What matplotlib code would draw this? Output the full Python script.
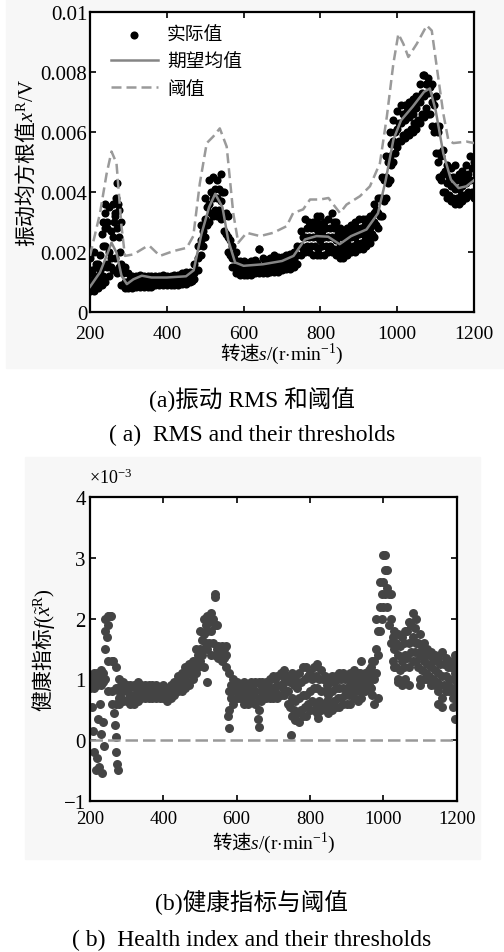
import numpy as np
import matplotlib
matplotlib.use("Agg")
import matplotlib.pyplot as plt
from matplotlib.patches import Rectangle

plt.rcParams['font.family'] = ['Liberation Serif', 'Noto Sans CJK SC']
plt.rcParams['mathtext.fontset'] = 'custom'
plt.rcParams['mathtext.rm'] = 'Liberation Serif'
plt.rcParams['mathtext.it'] = 'Liberation Serif:italic'
MIX = ['Liberation Serif', 'Noto Sans CJK SC']
CJK = ['Noto Sans CJK SC', 'Liberation Serif']

# ---- 转速网格 (r/min), 每 10 r/min 一组 ----
rpm = list(range(200, 1201, 10))

# ---- (a) 振动 RMS 实际值, 单位 1e-3 V: 下沿 / 中间 / 上沿 ----
rms_lo = [0.7, 0.7, 0.8, 0.9, 1.0, 1.2, 1.4, 1.3, 0.9, 0.8,
          0.8, 0.8, 0.85, 0.85, 0.85, 0.85, 0.85, 0.9, 0.9, 0.9,
          0.9, 0.9, 0.9, 0.9, 0.95, 0.95, 1.0, 1.1, 1.4, 1.9,
          2.5, 3.0, 3.2, 3.2, 3.1, 2.7, 2.0, 1.5, 1.3, 1.25,
          1.25, 1.25, 1.25, 1.3, 1.3, 1.3, 1.3, 1.35, 1.35, 1.35,
          1.4, 1.45, 1.45, 1.5, 1.6, 1.9, 2.0, 2.0, 1.9, 1.9,
          1.9, 1.9, 2.0, 2.0, 1.9, 1.8, 1.8, 1.9, 2.0, 2.0,
          2.1, 2.1, 2.2, 2.3, 2.5, 2.8, 3.2, 3.8, 4.4, 5.0,
          5.5, 5.7, 5.8, 5.9, 6.0, 6.1, 6.3, 6.5, 6.6, 6.2,
          5.3, 4.5, 4.0, 3.8, 3.7, 3.6, 3.6, 3.7, 3.8, 3.9,
          3.8]
rms_mid = [1.0, 1.1, 1.2, 1.5, 2.2, 2.0, 2.5, 2.8, 1.6, 1.0,
           1.0, 1.0, 1.0, 1.0, 1.0, 1.0, 1.05, 1.05, 1.05, 1.05,
           1.05, 1.05, 1.05, 1.05, 1.1, 1.1, 1.15, 1.3, 1.8, 2.4,
           3.1, 3.6, 3.8, 3.8, 3.7, 3.2, 2.5, 1.8, 1.5, 1.45,
           1.45, 1.45, 1.45, 1.5, 1.55, 1.5, 1.5, 1.55, 1.55, 1.6,
           1.6, 1.65, 1.7, 1.75, 1.9, 2.2, 2.5, 2.5, 2.5, 2.5,
           2.4, 2.5, 2.5, 2.5, 2.4, 2.2, 2.2, 2.3, 2.5, 2.5,
           2.6, 2.6, 2.7, 2.8, 3.0, 3.3, 3.8, 4.5, 5.2, 5.7,
           6.1, 6.3, 6.4, 6.5, 6.6, 6.8, 7.0, 7.2, 7.3, 7.0,
           6.2, 5.3, 4.6, 4.3, 4.2, 4.1, 4.1, 4.2, 4.3, 4.4,
           4.4]
rms_hi = [1.8, 2.0, 1.6, 2.6, 3.6, 3.5, 3.6, 4.3, 3.0, 1.5,
          1.3, 1.2, 1.2, 1.25, 1.2, 1.2, 1.2, 1.2, 1.2, 1.25,
          1.2, 1.2, 1.25, 1.25, 1.3, 1.35, 1.35, 1.6, 2.2, 2.9,
          3.8, 4.4, 4.5, 4.4, 4.6, 4.0, 3.2, 2.2, 2.0, 1.7,
          1.7, 1.65, 1.7, 1.75, 2.1, 1.8, 1.75, 1.8, 1.85, 1.85,
          1.85, 1.9, 1.95, 2.0, 2.2, 2.7, 3.1, 3.0, 3.0, 3.0,
          2.9, 3.0, 3.1, 3.3, 3.0, 2.8, 2.7, 2.8, 2.9, 3.0,
          3.1, 3.1, 3.1, 3.2, 3.6, 3.8, 4.5, 5.2, 6.0, 6.4,
          6.7, 6.9, 6.9, 7.0, 7.1, 7.2, 7.6, 7.9, 7.8, 7.6,
          7.2, 6.2, 5.4, 4.9, 4.8, 4.9, 4.6, 4.7, 4.9, 5.2,
          5.0]

# 点云较宽处的补充点
rms_fill_s = [205, 215, 225, 235, 245, 255, 265, 275, 285,
              305, 325, 345, 365, 385, 405, 425, 445, 465,
              495, 505, 515, 525, 535, 545, 555, 565, 575,
              595, 615, 635, 655, 675, 695, 715, 735,
              755, 765, 775, 785, 795, 805, 815, 825, 835, 845, 855, 865,
              875, 885, 895, 905, 915, 925, 935, 945, 955, 965, 975, 985,
              995, 1005, 1015, 1025, 1035, 1045, 1055, 1065, 1075, 1085,
              1095, 1105, 1115, 1125, 1135, 1145, 1155, 1165, 1175, 1185, 1195]
rms_fill_lo = [0.8, 0.9, 1.0, 1.2, 1.6, 1.5, 1.8, 1.5, 0.9,
               0.85, 0.9, 0.9, 0.95, 0.95, 0.95, 0.95, 1.0, 1.05,
               2.2, 2.9, 3.3, 3.4, 3.4, 3.2, 2.6, 1.9, 1.5,
               1.3, 1.3, 1.35, 1.35, 1.4, 1.45, 1.5, 1.6,
               2.1, 2.2, 2.2, 2.2, 2.1, 2.2, 2.2, 2.2, 2.1, 2.0, 2.0, 2.0,
               2.1, 2.2, 2.3, 2.3, 2.4, 2.5, 2.6, 2.9, 3.2, 3.7, 4.3, 4.9,
               5.3, 5.7, 5.9, 6.0, 6.1, 6.3, 6.4, 6.6, 6.8, 6.6,
               6.0, 5.0, 4.4, 4.0, 3.9, 3.8, 3.8, 3.9, 3.9, 4.0, 4.0]
rms_fill_hi = [1.3, 1.6, 1.4, 2.2, 2.8, 2.7, 3.3, 3.4, 1.3,
               1.1, 1.1, 1.1, 1.15, 1.15, 1.15, 1.15, 1.2, 1.25,
               2.7, 3.5, 4.0, 4.1, 4.1, 4.0, 3.3, 2.4, 1.8,
               1.6, 1.6, 1.65, 1.7, 1.7, 1.75, 1.8, 1.9,
               2.5, 2.8, 2.8, 2.8, 2.7, 2.7, 2.8, 2.8, 2.8, 2.6, 2.5, 2.5,
               2.6, 2.7, 2.8, 2.8, 2.9, 3.0, 3.2, 3.4, 3.8, 4.4, 5.0, 5.6,
               6.0, 6.3, 6.6, 6.7, 6.8, 6.9, 7.1, 7.3, 7.6, 7.5,
               6.9, 6.0, 5.2, 4.7, 4.5, 4.5, 4.4, 4.4, 4.5, 4.6, 4.8]

# 离散点
rms_extra_s = [205, 215, 225, 235, 240, 240, 245, 245, 255, 262, 265, 268,
               272, 275, 278, 640, 680, 790, 800, 835, 940, 1068]
rms_extra_v = [1.4, 1.5, 1.9, 3.0, 3.3, 2.8, 3.0, 1.5, 1.8, 3.0, 3.2, 3.8,
               3.6, 2.5, 2.0, 2.1, 1.9, 3.2, 3.2, 3.0, 3.3, 7.9]

# 期望均值
mean_s = [200, 226, 243, 256, 269, 282, 296, 313, 335, 360, 400, 450, 470,
          490, 510, 526, 545, 560, 578, 600, 650, 700, 730, 760, 790, 820,
          850, 880, 920, 950, 970, 990, 1010, 1040, 1070, 1085, 1100, 1120,
          1140, 1160, 1180, 1200]
mean_v = [0.85, 1.33, 1.88, 2.32, 1.99, 1.22, 0.94, 1.1, 1.22, 1.16, 1.16,
          1.2, 1.4, 2.6, 3.5, 3.95, 3.5, 2.4, 1.66, 1.55, 1.6, 1.71, 1.88,
          2.43, 2.54, 2.52, 2.27, 2.54, 2.76, 3.3, 4.4, 5.75, 6.4, 6.85,
          7.35, 7.46, 6.74, 5.3, 4.42, 4.14, 4.2, 4.4]

# 阈值
thr_s = [200, 226, 243, 256, 269, 282, 291, 313, 348, 356, 382, 417, 452,
         469, 486, 504, 521, 538, 556, 573, 586, 608, 643, 677, 712, 729,
         755, 773, 799, 821, 834, 851, 868, 903, 929, 955, 973, 990, 1003,
         1016, 1029, 1051, 1077, 1090, 1103, 1120, 1133, 1146, 1181, 1200]
thr_v = [1.88, 3.3, 4.6, 5.36, 4.97, 2.87, 1.88, 1.93, 2.2, 2.2, 1.88,
         2.04, 2.15, 2.54, 4.3, 5.64, 5.86, 6.13, 5.52, 3.31, 2.32, 2.65,
         2.54, 2.65, 2.87, 3.31, 3.43, 3.76, 3.76, 3.81, 3.59, 3.31, 3.59,
         3.87, 4.2, 4.97, 6.52, 8.29, 9.28, 8.95, 8.51, 8.95, 9.56, 9.39,
         8.18, 6.63, 5.75, 5.64, 5.69, 5.64]

# ---- (b) 健康指标, 单位 1e-3 ----
hi_lo = [0.85, 0.85, 0.9, 0.9, 1.0, 0.8, 0.6, 0.6, 0.6, 0.65,
         0.65, 0.6, 0.6, 0.65, 0.7, 0.7, 0.7, 0.7, 0.7, 0.7,
         0.7, 0.65, 0.7, 0.75, 0.8, 0.8, 0.85, 0.9, 1.0, 1.1,
         1.3, 1.5, 1.5, 1.4, 1.4, 1.35, 1.3, 1.2, 0.5, 0.6,
         0.7, 0.7, 0.6, 0.6, 0.7, 0.6, 0.5, 0.7, 0.7, 0.7,
         0.7, 0.7, 0.75, 0.75, 0.6, 0.4, 0.35, 0.3, 0.4, 0.4,
         0.5, 0.5, 0.45, 0.5, 0.55, 0.45, 0.5, 0.55, 0.55, 0.6,
         0.6, 0.6, 0.7, 0.65, 0.7, 0.8, 0.9, 0.75, 1.1, 1.8,
         2.2, 2.2, 1.6, 1.2, 1.0, 0.95, 1.0, 1.2, 1.3, 1.3,
         1.0, 1.0, 1.0, 0.9, 0.9, 0.8, 0.7, 0.8, 0.8, 0.7,
         0.6]
hi_mid = [0.95, 1.0, 1.0, 1.05, 1.5, 1.3, 0.8, 0.85, 0.8, 0.8,
          0.8, 0.75, 0.75, 0.8, 0.8, 0.8, 0.8, 0.8, 0.8, 0.8,
          0.8, 0.75, 0.8, 0.85, 0.9, 0.95, 1.0, 1.1, 1.2, 1.3,
          1.5, 1.75, 1.8, 1.8, 1.9, 1.45, 1.45, 1.4, 0.8, 0.8,
          0.85, 0.8, 0.8, 0.75, 0.85, 0.8, 0.7, 0.8, 0.85, 0.85,
          0.85, 0.9, 0.9, 0.95, 0.8, 0.7, 0.65, 0.7, 0.75, 0.75,
          0.8, 0.85, 0.85, 0.8, 0.8, 0.75, 0.8, 0.85, 0.85, 0.85,
          0.85, 0.9, 0.9, 0.9, 0.95, 0.95, 1.0, 1.1, 1.5, 2.2,
          2.6, 2.5, 2.0, 1.5, 1.4, 1.3, 1.4, 1.6, 1.7, 1.6,
          1.4, 1.3, 1.25, 1.2, 1.15, 1.1, 1.05, 1.05, 1.0, 1.0,
          0.9]
hi_hi = [1.05, 1.1, 1.1, 1.15, 2.0, 2.05, 1.3, 1.2, 1.0, 0.95,
         0.9, 0.9, 0.9, 0.95, 0.9, 0.9, 0.9, 0.9, 0.9, 0.85,
         0.9, 0.85, 0.9, 0.95, 1.05, 1.1, 1.2, 1.25, 1.3, 1.5,
         1.8, 2.0, 2.05, 2.1, 2.4, 1.55, 1.55, 1.55, 1.1, 1.0,
         0.95, 0.9, 0.95, 0.9, 0.95, 0.95, 0.95, 0.95, 0.95, 1.0,
         1.05, 1.05, 1.1, 1.15, 1.05, 1.1, 1.0, 1.1, 1.2, 1.2,
         1.1, 1.2, 1.25, 1.15, 1.05, 1.0, 1.05, 1.05, 1.1, 1.1,
         1.05, 1.1, 1.15, 1.1, 1.3, 1.1, 1.15, 1.3, 2.0, 2.6,
         3.05, 2.8, 2.4, 1.8, 1.75, 1.7, 1.8, 1.95, 2.1, 2.0,
         1.75, 1.6, 1.5, 1.45, 1.4, 1.35, 1.45, 1.35, 1.3, 1.3,
         1.2]

hi_fill_s = [205, 215, 225, 235, 285, 305, 325, 345, 365, 385, 405, 425,
             445, 465, 485,
             495, 505, 515, 525, 535, 545, 555, 565, 585, 605, 625, 645,
             665, 685, 705, 725,
             745, 755, 765, 775, 785, 795, 805, 815, 825, 835, 845, 855,
             865, 875, 885, 895, 905, 915, 925, 935, 945, 955, 965, 975,
             985, 995, 1005, 1015, 1025, 1035, 1045, 1055, 1065, 1075,
             1085, 1095, 1105, 1115, 1125, 1135, 1145, 1155, 1165, 1175,
             1185, 1195]
hi_fill_lo = [0.9, 0.9, 0.95, 0.95, 0.7, 0.7, 0.7, 0.72, 0.75, 0.75, 0.72,
              0.75, 0.85, 0.95, 1.1,
              1.2, 1.4, 1.6, 1.6, 1.6, 1.5, 1.4, 1.35, 0.7, 0.75, 0.7,
              0.75, 0.65, 0.75, 0.8, 0.85,
              0.55, 0.5, 0.45, 0.5, 0.55, 0.6, 0.65, 0.6, 0.65, 0.6, 0.65,
              0.6, 0.65, 0.7, 0.7, 0.75, 0.75, 0.8, 0.8, 0.8, 0.85, 0.9,
              0.85, 1.0, 1.4, 2.0, 2.4, 1.9, 1.3, 1.2, 1.15, 1.2, 1.35,
              1.45, 1.45, 1.2, 1.15, 1.1, 1.05, 1.0, 0.95, 0.9, 0.9, 0.9,
              0.85, 0.8]
hi_fill_hi = [1.0, 1.05, 1.05, 1.1, 0.9, 0.85, 0.85, 0.88, 0.85, 0.85, 0.82,
              0.88, 1.0, 1.15, 1.25,
              1.4, 1.65, 1.9, 1.95, 2.0, 1.9, 1.5, 1.5, 0.9, 0.9, 0.88,
              0.9, 0.9, 0.95, 1.0, 1.05,
              0.95, 0.9, 0.85, 0.95, 1.0, 1.05, 1.0, 1.05, 1.0, 1.0, 0.9,
              0.95, 0.95, 1.0, 1.0, 1.0, 1.0, 1.05, 1.0, 1.1, 1.05, 1.05,
              1.2, 1.3, 1.8, 2.4, 2.8, 2.4, 1.7, 1.6, 1.55, 1.6, 1.8,
              1.9, 1.85, 1.6, 1.5, 1.4, 1.4, 1.3, 1.3, 1.25, 1.25, 1.2,
              1.2, 1.1]

hi_extra_s = [205, 208, 212, 215, 218, 222, 225, 228, 230, 233, 236, 238,
              242, 245, 248, 252, 255, 258, 262, 265, 268, 270, 272, 274,
              276, 278, 518, 510, 542, 576, 578, 658, 662, 748, 760, 822,
              975, 985, 1005, 1040, 1050, 1070, 1100, 1150, 1160, 1190,
              1195, 1195]
hi_extra_v = [0.55, 0.15, -0.2, -0.5, -0.3, 0.35, -0.45, 0.6, 0.1, -0.55,
              0.3, -0.1, 1.8, 1.7, 1.9, 2.05, 2.05, 2.05, 1.3, 0.45, 0.25,
              0.05, -0.2, -0.4, -0.5, 0.7, 0.95, 1.2, 2.35, 0.4, 0.2, 0.35,
              0.22, 0.08, 0.33, 0.37, 0.6, 0.7, 3.05, 0.95, 0.9, 0.9, 0.9,
              0.6, 0.55, 0.55, 0.35, 1.4]

hi_thr_s = [200, 1200]
hi_thr_v = [0.0, 0.0]


W, H = 504, 953
fig = plt.figure(figsize=(W / 100, H / 100), dpi=100)

# 浅灰底
fig.patches.append(Rectangle((6 / W, 1 - 369 / H), 498 / W, 369 / H,
                             transform=fig.transFigure, color='#f7f7f7',
                             zorder=-10))
fig.patches.append(Rectangle((25 / W, 1 - 860 / H), 455 / W, 402 / H,
                             transform=fig.transFigure, color='#f7f7f7',
                             zorder=-10))


def px_axes(l, t, r, b):
    return fig.add_axes([l / W, 1 - b / H, (r - l) / W, (b - t) / H])


def style(ax, fs, xpad):
    for sp in ax.spines.values():
        sp.set_linewidth(1.6)
    ax.tick_params(direction='in', top=True, right=True, length=4,
                   width=1.2, labelsize=fs)
    ax.tick_params(axis='x', pad=xpad)
    ax.tick_params(axis='y', pad=3)


# 坐标轴标题: 汉字用 CJK 字体, 其余放进 mathtext 用衬线体
XLAB = '转速$s/(\\mathrm{r{\\cdot}min}^{-1})$'

# ---------- (a) ----------
ax1 = px_axes(90, 13.3, 474, 313.3)
s_all = np.concatenate([rpm, rpm, rpm, rms_fill_s, rms_fill_s, rms_extra_s])
v_all = np.concatenate([rms_lo, rms_mid, rms_hi, rms_fill_lo, rms_fill_hi,
                        rms_extra_v]) * 1e-3
ax1.scatter(s_all, v_all, s=34, c='black', linewidths=0, zorder=2,
            label='实际值')
ax1.plot(mean_s, np.array(mean_v) * 1e-3, color='#858585', lw=1.8,
         zorder=3, label='期望均值')
ax1.plot(thr_s, np.array(thr_v) * 1e-3, color='#9a9a9a', lw=1.8,
         ls=(0, (4, 2)), zorder=3, label='阈值')
ax1.set_xlim(200, 1200)
ax1.set_ylim(0, 0.01)
ax1.set_xticks([200, 400, 600, 800, 1000, 1200])
ax1.set_yticks([0, 0.002, 0.004, 0.006, 0.008, 0.01])
ax1.set_yticklabels(['0', '0.002', '0.004', '0.006', '0.008', '0.01'])
style(ax1, 14, 9)
ax1.tick_params(axis='y', labelsize=15, pad=2)
ax1.set_ylabel('振动均方根值$x^{\\mathrm{R}}/\\mathrm{V}$', fontsize=15,
               family=CJK, labelpad=2)
ax1.set_xlabel(XLAB, fontsize=14, family=CJK, labelpad=-1)
ax1.legend(loc='upper left', bbox_to_anchor=(0.035, 0.985), frameon=False,
           prop={'family': CJK, 'size': 13.5}, handlelength=2.5,
           handletextpad=0.5, labelspacing=0.3, scatterpoints=1,
           borderaxespad=0)

fig.text(252 / W, 1 - 400 / H, '(a)振动 RMS 和阈值', ha='center',
         va='center', fontsize=17, family=MIX)
fig.text(252 / W, 1 - 435 / H, '( a)  RMS and their thresholds',
         ha='center', va='center', fontsize=17)

# ---------- (b) ----------
ax2 = px_axes(90, 498.3, 456.7, 801.7)
s2 = np.concatenate([rpm, rpm, rpm, hi_fill_s, hi_fill_s, hi_extra_s])
v2 = np.concatenate([hi_lo, hi_mid, hi_hi, hi_fill_lo, hi_fill_hi,
                     hi_extra_v])
ax2.scatter(s2, v2, s=42, c='#444444', linewidths=0, zorder=2)
ax2.plot(hi_thr_s, hi_thr_v, color='#999999', lw=1.8, ls=(0, (5, 2)),
         zorder=3)
ax2.set_xlim(200, 1200)
ax2.set_ylim(-1, 4)
ax2.set_xticks([200, 400, 600, 800, 1000, 1200])
ax2.set_yticks([-1, 0, 1, 2, 3, 4])
ax2.set_yticklabels(['\u22121', '0', '1', '2', '3', '4'])
style(ax2, 13.5, 7)
ax2.tick_params(axis='y', labelsize=15)
ax2.set_ylabel('健康指标$f(\\tilde{x}^{\\mathrm{R}})$', fontsize=15,
               family=CJK, labelpad=5)
ax2.set_xlabel(XLAB, fontsize=14, family=CJK, labelpad=2)
fig.text(89 / W, 1 - 484 / H, '×10$^{-3}$', ha='left', va='baseline',
         fontsize=13)

fig.text(251 / W, 1 - 903 / H, '(b)健康指标与阈值', ha='center',
         va='center', fontsize=17, family=MIX)
fig.text(252 / W, 1 - 940 / H, '( b)  Health index and their thresholds',
         ha='center', va='center', fontsize=17)

fig.savefig('out.png', dpi=100)
